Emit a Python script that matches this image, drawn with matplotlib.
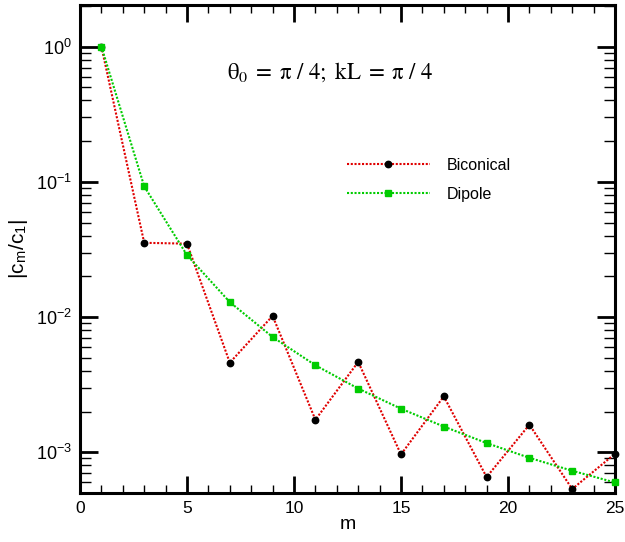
import matplotlib
matplotlib.use("Agg")
import matplotlib.pyplot as plt
from matplotlib.ticker import LogLocator, MultipleLocator, NullFormatter

plt.rcParams['font.family'] = ['Liberation Sans', 'DejaVu Sans']
plt.rcParams['mathtext.fontset'] = 'stix'

m = [1, 3, 5, 7, 9, 11, 13, 15, 17, 19, 21, 23, 25]
biconical = [1.0, 0.0354, 0.0349, 0.0046, 0.0102, 0.00174, 0.00466, 0.000964,
             0.00259, 0.000656, 0.0016, 0.000535, 0.000975]
dipole = [1.0, 0.0926, 0.0287, 0.0129, 0.00712, 0.0044, 0.00296, 0.0021,
          0.00155, 0.00117, 0.00091, 0.00073, 0.000598]

fig = plt.figure(figsize=(6.25, 5.42), dpi=100)
ax = fig.add_axes([80/625, 1-493/542, 535/625, 488/542])

ax.plot(m, biconical, color='#e00000', linestyle=(0, (1, 0.8)), linewidth=1.5,
        marker='o', markersize=4.6, markerfacecolor='black', markeredgecolor='black',
        label='Biconical', clip_on=False, zorder=3)
ax.plot(m, dipole, color='#00cc00', linestyle=(0, (1, 0.8)), linewidth=1.5,
        marker='s', markersize=3.8, markerfacecolor='#00cc00', markeredgecolor='#00cc00',
        label='Dipole', clip_on=False, zorder=3)

ax.set_yscale('log')
ax.set_xlim(0, 25)
ax.set_ylim(5.0e-4, 2.03)

ax.xaxis.set_major_locator(MultipleLocator(5))
ax.xaxis.set_minor_locator(MultipleLocator(1))
ax.yaxis.set_major_locator(LogLocator(base=10, numticks=10))
ax.yaxis.set_minor_locator(LogLocator(base=10, subs=range(2, 10), numticks=20))
ax.yaxis.set_minor_formatter(NullFormatter())

ax.tick_params(which='major', direction='in', length=12, width=2,
               top=True, right=True, labelsize=12.5, pad=6)
ax.tick_params(which='minor', direction='in', length=6, width=1,
               top=True, right=True)
ax.tick_params(axis='y', which='minor', length=8)
ax.tick_params(axis='y', which='major', length=13, labelsize=13)
for s in ax.spines.values():
    s.set_linewidth(2.2)

ax.set_xlabel('m', fontsize=14, labelpad=0)
ax.set_ylabel('|c$_\\mathregular{m}$/c$_\\mathregular{1}$|', fontsize=15, labelpad=4)

ax.text(0.468, 0.863, r'$\mathrm{\theta_0\;=\;\pi\ /\ 4;\ kL\;=\;\pi\ /\ 4}$',
        transform=ax.transAxes, ha='center', va='center', fontsize=16.5)

leg = ax.legend(loc='upper left', bbox_to_anchor=(0.472, 0.716), frameon=False,
                fontsize=11.5, handlelength=5.2, handletextpad=1.05, labelspacing=0.85,
                markerscale=1.0)

fig.savefig('out.png', dpi=100)
